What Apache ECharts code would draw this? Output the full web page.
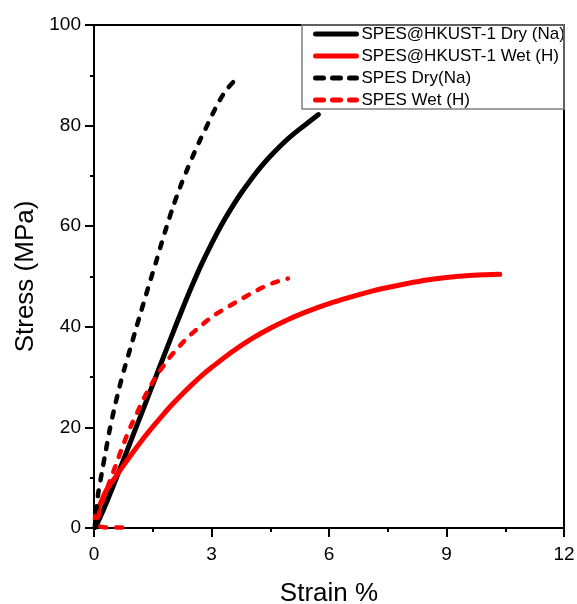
<!DOCTYPE html>
<html>
<head>
<meta charset="utf-8">
<script src="https://cdn.jsdelivr.net/npm/echarts@6/dist/echarts.min.js"></script>
<style>html,body{margin:0;padding:0;background:#fff;}#c{width:577px;height:604px;}</style>
</head>
<body>
<div id="c"></div>
<script>
// Series names
const seriesNames = ['SPES@HKUST-1 Dry (Na)', 'SPES@HKUST-1 Wet (H)', 'SPES Dry(Na)', 'SPES Wet (H)'];
// Data: [strain %, stress MPa]
const hkustDry = [[0.05,0.3],[0.1,1.2],[0.25,3.8],[0.4,6.6],[0.6,10.5],[0.8,14.5],[1.0,18.5],[1.2,22.5],[1.4,26.5],[1.6,30.5],[1.8,34.5],[2.0,38.5],[2.25,43.4],[2.5,48.1],[2.75,52.5],[3.0,56.5],[3.25,60.2],[3.5,63.5],[3.75,66.5],[4.0,69.2],[4.25,71.7],[4.5,73.9],[4.75,75.9],[5.0,77.7],[5.25,79.3],[5.5,80.8],[5.73,82.2]];
const hkustWet = [[0.03,2],[0.1,3.6],[0.3,7.3],[0.5,9.6],[0.75,12.4],[1.0,15.1],[1.25,17.7],[1.5,20.1],[1.75,22.4],[2.0,24.6],[2.25,26.6],[2.5,28.5],[2.75,30.3],[3.0,31.9],[3.5,34.9],[4.0,37.5],[4.5,39.7],[5.0,41.6],[5.5,43.2],[6.0,44.6],[6.5,45.8],[7.0,46.9],[7.5,47.8],[8.0,48.6],[8.5,49.3],[9.0,49.8],[9.5,50.15],[10.0,50.35],[10.36,50.45]];
const spesDry = [[0.02,0],[0.05,3],[0.1,6.5],[0.2,11],[0.3,15.3],[0.4,19.5],[0.52,23.8],[0.65,28],[0.78,31.8],[0.92,35.5],[1.06,39.3],[1.2,43],[1.33,46.4],[1.45,49.5],[1.6,53.3],[1.72,56.5],[1.85,59.8],[2.02,63.9],[2.2,67.8],[2.38,71.3],[2.55,74.4],[2.7,77],[2.85,79.4],[3.02,82.2],[3.2,84.9],[3.38,87.1],[3.56,88.7]];
const spesWet = [[0.72,0.1],[0.45,0.1],[0.15,0.3],[0.1,1.5],[0.15,3.6],[0.25,6],[0.37,8.6],[0.48,10.9],[0.58,13],[0.7,15.6],[0.83,18.2],[0.96,20.6],[1.09,22.7],[1.2,24.6],[1.34,26.8],[1.5,29],[1.68,31.2],[1.9,33.6],[2.2,36.3],[2.45,38.3],[2.7,40],[3.05,42.2],[3.45,44.1],[3.8,45.7],[4.05,46.8],[4.3,47.8],[4.6,48.8],[4.95,49.6]];
// Axis ticks
const xTicks = [0, 3, 6, 9, 12];
const yTicks = [0, 20, 40, 60, 80, 100];

const chart = echarts.init(document.getElementById('c'), null, {renderer: 'canvas'});
const font = 'Liberation Sans, Arial, sans-serif';
const colors = ['#000000', '#ff0000', '#000000', '#ff0000'];
const dashedFlags = [false, false, true, true];
const dataSets = [hkustDry, hkustWet, spesDry, spesWet];
function lineStyleFor(i) {
  return dashedFlags[i]
    ? {color: colors[i], width: 4.5, type: [6, 10], cap: 'round'}
    : {color: colors[i], width: 5, cap: 'round'};
}
chart.setOption({
  animation: false,
  backgroundColor: '#fff',
  grid: {left: 94, right: 13, top: 25, bottom: 76, show: true, borderColor: '#000', borderWidth: 2,
         containLabel: false, outerBoundsMode: 'none'},
  legend: {
    show: true, orient: 'vertical', left: 313, top: 24, padding: 0,
    itemWidth: 41, itemHeight: 14, itemGap: 2,
    itemStyle: {color: 'rgba(0,0,0,0)', borderWidth: 0, opacity: 0},
    data: seriesNames.map((n, i) => ({
      name: n,
      itemStyle: {color: 'rgba(0,0,0,0)', borderWidth: 0, opacity: 0},
      lineStyle: dashedFlags[i]
        ? {color: colors[i], width: 5, type: [8, 9], cap: 'round'}
        : {color: colors[i], width: 5}
    })),
    textStyle: {fontFamily: font, fontSize: 17, color: '#000', lineHeight: 20}
  },
  graphic: [{
    type: 'rect', shape: {x: 302, y: 25, width: 262, height: 84},
    style: {fill: 'none', stroke: '#808080', lineWidth: 1.5}, z: 10
  }],
  xAxis: {
    type: 'value', min: xTicks[0], max: xTicks[xTicks.length - 1], interval: 3,
    name: 'Strain %', nameLocation: 'middle', nameGap: 53,
    nameTextStyle: {fontFamily: font, fontSize: 26, color: '#000'},
    axisLine: {show: true, onZero: false, lineStyle: {color: '#000', width: 2}},
    axisTick: {show: true, inside: false, length: 9, lineStyle: {color: '#000', width: 2}},
    minorTick: {show: true, splitNumber: 2, length: 4, lineStyle: {color: '#000', width: 2}},
    axisLabel: {fontFamily: font, fontSize: 19, color: '#000', margin: 17},
    splitLine: {show: false}
  },
  yAxis: {
    type: 'value', min: yTicks[0], max: yTicks[yTicks.length - 1], interval: 20,
    name: 'Stress (MPa)', nameLocation: 'middle', nameGap: 54,
    nameTextStyle: {fontFamily: font, fontSize: 26, color: '#000'},
    axisLine: {show: true, onZero: false, lineStyle: {color: '#000', width: 2}},
    axisTick: {show: true, inside: false, length: 9, lineStyle: {color: '#000', width: 2}},
    minorTick: {show: true, splitNumber: 2, length: 4, lineStyle: {color: '#000', width: 2}},
    axisLabel: {fontFamily: font, fontSize: 19, color: '#000', margin: 13},
    splitLine: {show: false}
  },
  series: seriesNames.map((n, i) => ({
    name: n, type: 'line', data: dataSets[i], symbol: 'none', showSymbol: false, smooth: 0.3,
    lineStyle: lineStyleFor(i), itemStyle: {color: colors[i]}, clip: true, z: 3
  }))
});
</script>
</body>
</html>
